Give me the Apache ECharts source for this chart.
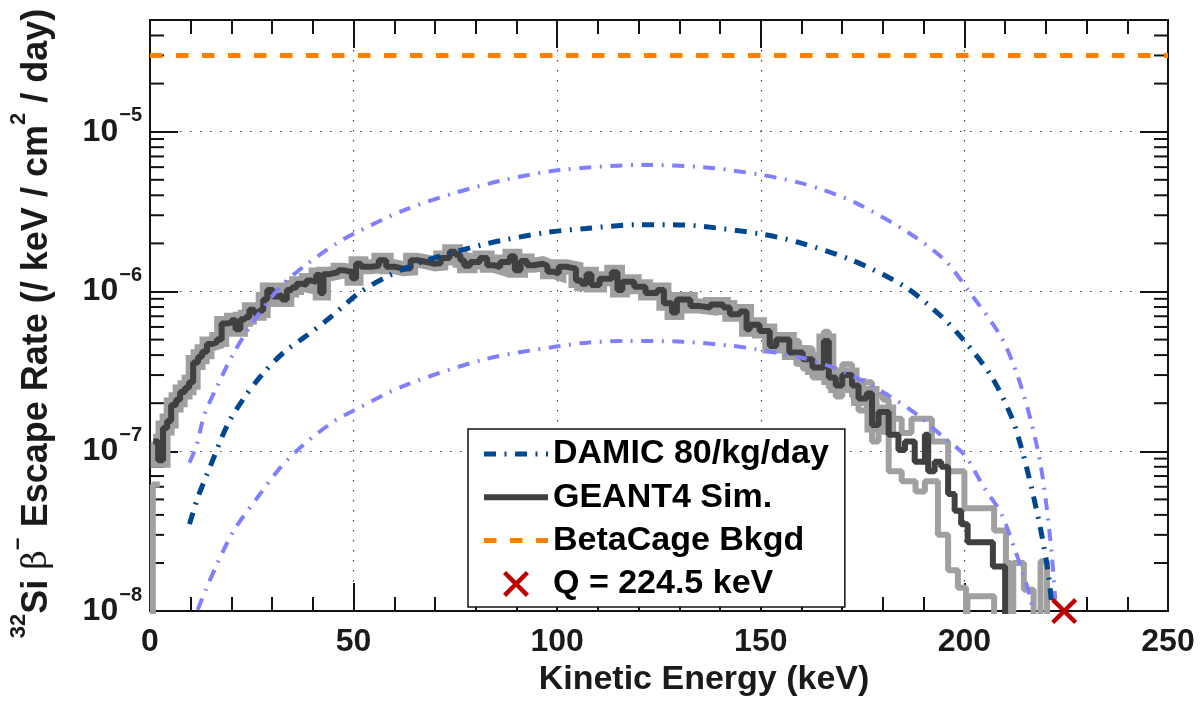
<!DOCTYPE html>
<html>
<head>
<meta charset="utf-8">
<script src="https://cdn.jsdelivr.net/npm/echarts@6/dist/echarts.min.js"></script>
<style>
  html, body { margin: 0; padding: 0; background: #fff; }
  #chart { width: 1201px; height: 702px; }
</style>
</head>
<body>
<div id="chart"></div>
<script>
// ---- data: kinetic energy (keV) vs 32Si beta escape rate (/keV/cm^2/day) ----

// GEANT4 simulated spectrum, step histogram: [bin left edge, rate]
const geantRate = [
  [0.8, 1.15e-7], [2.0, 8.8e-8], [3.2, 1.4e-7], [4.2, 1.55e-7], [5.2, 1.95e-7], [6.4, 2.1e-7],
  [7.4, 2.35e-7], [8.6, 2.5e-7], [9.6, 2.7e-7], [10.6, 3.6e-7], [11.8, 3.9e-7], [12.8, 4.2e-7],
  [14.0, 4.7e-7], [15.2, 4.8e-7], [16.4, 5.0e-7], [17.6, 6.3e-7], [18.8, 6.4e-7], [20.0, 6.6e-7],
  [21.0, 5.8e-7], [22.2, 6.7e-7], [23.4, 6.9e-7], [24.4, 7.7e-7], [25.6, 7.3e-7], [26.8, 7.6e-7],
  [27.8, 8.9e-7], [28.8, 1.02e-6], [30.2, 9.3e-7], [31.4, 9.5e-7], [32.4, 8.9e-7], [33.6, 1.02e-6],
  [34.8, 1.06e-6], [36.0, 1.12e-6], [37.2, 1.1e-6], [38.4, 1.17e-6], [39.6, 1.15e-6], [40.8, 1.27e-6],
  [41.8, 9.8e-7], [42.6, 1.28e-6], [43.8, 1.3e-6], [45.0, 1.32e-6], [46.2, 1.36e-6], [47.4, 1.34e-6],
  [48.6, 1.33e-6], [49.6, 1.21e-6], [50.6, 1.49e-6], [51.8, 1.43e-6], [54.4, 1.45e-6], [56.2, 1.57e-6],
  [58.0, 1.43e-6], [60.0, 1.39e-6], [62.2, 1.4e-6], [64.0, 1.57e-6], [65.6, 1.53e-6], [68.0, 1.49e-6],
  [70.0, 1.5e-6], [71.4, 1.62e-6], [73.6, 1.77e-6], [75.0, 1.7e-6], [76.2, 1.57e-6], [77.2, 1.45e-6],
  [78.6, 1.53e-6], [81.0, 1.62e-6], [82.8, 1.46e-6], [84.4, 1.42e-6], [86.0, 1.53e-6], [88.4, 1.66e-6],
  [89.6, 1.36e-6], [91.0, 1.55e-6], [92.6, 1.46e-6], [94.2, 1.49e-6], [96.4, 1.45e-6], [97.6, 1.33e-6],
  [99.2, 1.3e-6], [100.4, 1.43e-6], [102.2, 1.39e-6], [104.6, 1.17e-6], [106.0, 1.12e-6], [107.2, 1.28e-6],
  [108.4, 1.1e-6], [110.4, 1.2e-6], [113.4, 1.32e-6], [114.8, 1.02e-6], [116.0, 1.15e-6], [118.9, 1.07e-6],
  [121.7, 9.8e-7], [124.6, 1.02e-6], [126.2, 8.45e-7], [128.2, 7.4e-7], [129.4, 8.9e-7], [132.7, 8.1e-7],
  [135.1, 7.95e-7], [137.6, 8.3e-7], [140.8, 7.95e-7], [142.4, 7.2e-7], [144.9, 7.5e-7], [146.5, 5.8e-7],
  [147.3, 6.2e-7], [149.7, 5.65e-7], [152.2, 4.56e-7], [153.8, 5.0e-7], [157.0, 4.15e-7], [160.3, 3.77e-7],
  [162.7, 3.35e-7], [165.5, 4.9e-7], [166.7, 2.9e-7], [168.4, 2.58e-7], [170.0, 3.0e-7], [172.4, 2.58e-7],
  [174.0, 2.14e-7], [176.0, 2.3e-7], [177.3, 1.46e-7], [178.9, 1.76e-7], [181.4, 1.27e-7], [183.8, 1.02e-7],
  [185.4, 1.15e-7], [187.8, 8.6e-8], [190.3, 1.27e-7], [191.1, 7.5e-8], [192.7, 8.6e-8], [194.3, 8.0e-8],
  [196.0, 5.4e-8], [197.6, 4.25e-8], [199.2, 3.5e-8], [200.8, 2.7e-8], [207.0, 1.9e-8], [210.0, 5e-9]
];

// GEANT4 uncertainty bounds where they separate from the central histogram
const geantUpper = [
  [158.0, 4.9e-7], [159.4, 4.4e-7], [162.7, 3.9e-7], [165.5, 5.6e-7], [166.7, 3.3e-7], [168.4, 3.0e-7],
  [170.0, 3.5e-7], [172.4, 2.7e-7], [177.3, 2.25e-7], [180.0, 2.1e-7], [181.4, 1.6e-7], [184.6, 1.3e-7],
  [187.0, 1.6e-7], [192.0, 1.15e-7], [196.0, 7.5e-8], [200.0, 4.4e-8], [207.3, 3.2e-8], [210.2, 2.0e-8],
  [211.4, 5e-9], [212.0, 2.0e-8], [214.6, 1.36e-8], [217.0, 5e-9], [218.7, 2.05e-8], [220.3, 5e-9]
];
const geantLower = [
  [0.0, 5e-9], [0.7, 6.2e-8], [2.4, 6.2e-8], [2.4, '-'],
  [158.0, 3.6e-7], [160.3, 3.3e-7], [162.7, 2.9e-7], [165.5, 4.3e-7], [166.7, 2.5e-7], [168.4, 2.2e-7],
  [170.0, 2.55e-7], [172.4, 2.2e-7], [174.0, 1.8e-7], [176.0, 1.9e-7], [177.3, 1.15e-7], [178.9, 1.4e-7],
  [181.4, 7.5e-8], [184.6, 6.5e-8], [188.0, 5.6e-8], [190.3, 6.5e-8], [193.5, 3.0e-8], [196.0, 1.8e-8],
  [198.4, 1.4e-8], [200.4, 5e-9], [200.8, 1.24e-8], [207.3, 5e-9]
];

// DAMIC-derived spectrum (80/kg/day) and its band
const damicRate = [
  [9.7, 3.5e-8], [11.7, 5.1e-8], [15.0, 8.3e-8], [19.0, 1.46e-7], [23.0, 2.14e-7], [27.9, 3.1e-7],
  [32.8, 4.15e-7], [38.5, 5.3e-7], [44.0, 6.8e-7], [51.4, 9.8e-7], [58.5, 1.25e-6], [68.0, 1.57e-6],
  [82.7, 1.99e-6], [97.3, 2.34e-6], [107.0, 2.48e-6], [120.0, 2.62e-6], [128.0, 2.62e-6], [136.0, 2.55e-6],
  [150.0, 2.29e-6], [159.0, 2.04e-6], [172.4, 1.57e-6], [185.4, 1.07e-6], [194.3, 7.0e-7], [200.0, 4.9e-7],
  [206.5, 2.98e-7], [211.4, 1.68e-7], [214.0, 1.05e-7], [216.7, 5.6e-8], [219.1, 2.9e-8], [220.7, 1.65e-8],
  [221.5, 1.05e-8]
];
const damicUpper = [
  [9.7, 8.5e-8], [11.5, 1.1e-7], [13.3, 1.68e-7], [16.6, 2.58e-7], [20.6, 4.15e-7], [26.3, 7.0e-7],
  [32.0, 1.07e-6], [37.7, 1.43e-6], [45.8, 2.0e-6], [49.9, 2.29e-6], [62.0, 3.2e-6], [75.0, 4.15e-6],
  [87.2, 5.0e-6], [100.2, 5.73e-6], [121.3, 6.2e-6], [135.9, 6.0e-6], [149.6, 5.4e-6], [159.4, 4.8e-6],
  [165.0, 4.35e-6], [173.2, 3.6e-6], [186.2, 2.34e-6], [195.2, 1.57e-6], [200.9, 1.02e-6], [209.0, 5.2e-7],
  [213.0, 3.0e-7], [216.2, 1.6e-7], [218.7, 8.3e-8], [220.3, 4.25e-8], [221.5, 2.2e-8], [222.3, 1.18e-8]
];
const damicLower = [
  [11.7, 1.02e-8], [13.7, 1.36e-8], [16.6, 2.0e-8], [20.6, 3.2e-8], [26.3, 5.1e-8], [32.0, 7.9e-8],
  [37.7, 1.1e-7], [45.0, 1.53e-7], [50.0, 1.8e-7], [62.5, 2.58e-7], [82.3, 3.77e-7], [100.6, 4.56e-7],
  [107.9, 4.8e-7], [117.2, 4.9e-7], [131.0, 4.85e-7], [143.2, 4.56e-7], [148.9, 4.35e-7], [160.0, 3.85e-7],
  [167.0, 3.4e-7], [174.0, 2.84e-7], [181.3, 2.24e-7], [188.6, 1.68e-7], [195.1, 1.21e-7], [200.0, 9.5e-8],
  [204.9, 5.9e-8], [209.0, 4.1e-8], [212.2, 2.5e-8], [214.5, 1.7e-8], [216.3, 1.18e-8], [216.7, 1.02e-8]
];

// BetaCage background level and the 32Si Q-value
const betaCageBkgd = [[0, 3e-5], [250, 3e-5]];
const qValue = [[224.5, 1e-8]];

// axis ranges and minor tick positions of the log axis
const energyRange = [0, 250];
const rateRange = [1e-8, 5e-5];
const rateMinorTicks = [
  2e-8, 3e-8, 4e-8, 5e-8, 6e-8, 7e-8, 8e-8, 9e-8,
  2e-7, 3e-7, 4e-7, 5e-7, 6e-7, 7e-7, 8e-7, 9e-7,
  2e-6, 3e-6, 4e-6, 5e-6, 6e-6, 7e-6, 8e-6, 9e-6,
  2e-5, 3e-5, 4e-5
];

// ---- styling ----
const FONT = "'Liberation Sans', Arial, Helvetica, sans-serif";
const C_DAMIC = '#00478f';
const C_BAND = '#8080ff';
const C_GEANT = '#404040';
const C_GRAY = '#a0a0a0';
const C_BKGD = '#ff8000';
const C_Q = '#c00000';
const DASH_DOT = [12, 8.5, 2, 8.5];
const DASH = [12.5, 13.5];
const CROSS = 'path://M1.2,0 L5,3.8 L8.8,0 L10,1.2 L6.2,5 L10,8.8 L8.8,10 L5,6.2 L1.2,10 L0,8.8 L3.8,5 L0,1.2 Z';
const NO_MARK = { color: 'rgba(0,0,0,0)', borderColor: 'rgba(0,0,0,0)', borderWidth: 0 };

const gridLine = { show: true, lineStyle: { color: '#444', width: 1.2, type: [1.5, 8.5] } };
const frame = { show: true, onZero: false, lineStyle: { color: '#111', width: 2 } };
const majorTick = { show: true, inside: true, length: 28, lineStyle: { color: '#111', width: 2 } };

function powerLabel(v) {
  const e = Math.round(Math.log10(v));
  if (Math.abs(v / Math.pow(10, e) - 1) > 1e-6) return '';
  return '{m|10}{s|\u2212' + Math.abs(e) + '}';
}

const chart = echarts.init(document.getElementById('chart'));

chart.setOption({
  animation: false,
  backgroundColor: '#fff',
  grid: { left: 142, top: 20, width: 1026, height: 598, containLabel: false },
  xAxis: [
    {
      type: 'value', position: 'bottom', min: energyRange[0], max: energyRange[1], interval: 50,
      axisLine: frame, axisTick: majorTick,
      minorTick: { show: true, splitNumber: 5, length: 14, lineStyle: { color: '#111', width: 2 } },
      splitLine: gridLine,
      axisLabel: { margin: 15, fontFamily: FONT, fontWeight: 'bold', fontSize: 32, color: '#1a1a1a' },
      name: 'Kinetic Energy (keV)', nameLocation: 'middle', nameGap: 46,
      nameTextStyle: { fontFamily: FONT, fontWeight: 'bold', fontSize: 34, color: '#1a1a1a', padding: [0, 0, 0, 90] }
    },
    {
      type: 'value', position: 'top', min: energyRange[0], max: energyRange[1], interval: 50,
      axisLine: frame, axisTick: majorTick,
      minorTick: { show: true, splitNumber: 5, length: 14, lineStyle: { color: '#111', width: 2 } },
      splitLine: { show: false }, axisLabel: { show: false }
    }
  ],
  yAxis: [
    {
      type: 'log', position: 'left', min: rateRange[0], max: rateRange[1], logBase: 10,
      axisLine: frame, axisTick: majorTick, splitLine: gridLine,
      axisLabel: {
        margin: 8, formatter: powerLabel,
        rich: {
          m: { fontFamily: FONT, fontWeight: 'bold', fontSize: 32, color: '#1a1a1a', verticalAlign: 'middle' },
          s: { fontFamily: FONT, fontWeight: 'bold', fontSize: 20, color: '#1a1a1a', verticalAlign: 'middle', padding: [0, 0, 32, 1] }
        }
      },
      name: '{sup|32}{b|Si }{g|\u03b2}{sup|\u2212}{b| Escape Rate (/ keV / cm}{sup|2}{b| / day)}',
      nameLocation: 'middle', nameRotate: 90, nameGap: 84,
      nameTextStyle: {
        color: '#1a1a1a',
        padding: [0, 16, 0, 0],
        rich: {
          b: { fontFamily: FONT, fontWeight: 'bold', fontSize: 36, color: '#1a1a1a', verticalAlign: 'middle' },
          g: { fontFamily: "'DejaVu Serif', 'Liberation Serif', serif", fontWeight: 'normal', fontSize: 34, color: '#1a1a1a', verticalAlign: 'middle' },
          sup: { fontFamily: FONT, fontWeight: 'bold', fontSize: 22, color: '#1a1a1a', verticalAlign: 'middle', padding: [0, 0, 36, 0] }
        }
      }
    },
    {
      type: 'log', position: 'right', min: rateRange[0], max: rateRange[1], logBase: 10,
      axisLine: frame, axisTick: majorTick, splitLine: { show: false }, axisLabel: { show: false }
    }
  ],
  legend: {
    orient: 'vertical', left: 468, top: 429,
    itemWidth: 64, itemHeight: 26, itemGap: 5.3,
    padding: [6, 16, 4, 13],
    backgroundColor: '#fff', borderColor: '#111', borderWidth: 1.5, borderRadius: 0,
    selectedMode: false,
    textStyle: { fontFamily: FONT, fontWeight: 'bold', fontSize: 34, color: '#000', lineHeight: 38 },
    data: [
      { name: 'DAMIC 80/kg/day', itemStyle: NO_MARK, lineStyle: { color: C_DAMIC, width: 5, type: DASH_DOT, cap: 'butt' } },
      { name: 'GEANT4 Sim.', itemStyle: NO_MARK, lineStyle: { color: C_GEANT, width: 6, type: 'solid' } },
      { name: 'BetaCage Bkgd', itemStyle: NO_MARK, lineStyle: { color: C_BKGD, width: 5, type: DASH, cap: 'butt' } },
      { name: 'Q = 224.5 keV' }
    ]
  },
  series: [
    {
      // minor ticks on both log-scale edges
      name: 'rate minor ticks', type: 'custom', xAxisIndex: 0, yAxisIndex: 0, silent: true, clip: false, z: 1,
      data: rateMinorTicks.map(v => [energyRange[0], v]),
      renderItem: function (params, api) {
        const v = api.value(1);
        const a = api.coord([energyRange[0], v]);
        const b = api.coord([energyRange[1], v]);
        const st = { stroke: '#111', lineWidth: 2 };
        return {
          type: 'group',
          children: [
            { type: 'line', shape: { x1: a[0], y1: a[1], x2: a[0] + 14, y2: a[1] }, style: st },
            { type: 'line', shape: { x1: b[0] - 14, y1: b[1], x2: b[0], y2: b[1] }, style: st }
          ]
        };
      }
    },
    {
      name: 'GEANT4 band', type: 'line', step: 'end', symbol: 'none', z: 3,
      data: geantRate.filter(p => p[0] <= 181.5),
      lineStyle: { color: C_GRAY, width: 15, join: 'miter' }
    },
    {
      name: 'GEANT4 upper', type: 'line', step: 'end', symbol: 'none', z: 3,
      data: geantUpper, lineStyle: { color: C_GRAY, width: 6 }
    },
    {
      name: 'GEANT4 lower', type: 'line', step: 'end', symbol: 'none', z: 3,
      data: geantLower, lineStyle: { color: C_GRAY, width: 6 }
    },
    {
      name: 'GEANT4 Sim.', type: 'line', step: 'end', symbol: 'none', z: 4,
      data: geantRate, lineStyle: { color: C_GEANT, width: 6 }, itemStyle: { color: C_GEANT }
    },
    {
      name: 'DAMIC upper', type: 'line', smooth: 0.3, symbol: 'none', z: 5,
      data: damicUpper, lineStyle: { color: C_BAND, width: 4, type: DASH_DOT, cap: 'butt' }
    },
    {
      name: 'DAMIC lower', type: 'line', smooth: 0.3, symbol: 'none', z: 5,
      data: damicLower, lineStyle: { color: C_BAND, width: 4, type: DASH_DOT, cap: 'butt' }
    },
    {
      name: 'DAMIC 80/kg/day', type: 'line', smooth: 0.3, symbol: 'none', z: 6,
      data: damicRate, lineStyle: { color: C_DAMIC, width: 5, type: DASH_DOT, cap: 'butt' },
      itemStyle: { color: C_DAMIC }
    },
    {
      name: 'BetaCage Bkgd', type: 'line', symbol: 'none', z: 6,
      data: betaCageBkgd, lineStyle: { color: C_BKGD, width: 5, type: DASH, cap: 'butt' },
      itemStyle: { color: C_BKGD }
    },
    {
      name: 'Q = 224.5 keV', type: 'scatter', symbol: CROSS, symbolSize: 26, clip: false, z: 7,
      data: qValue, itemStyle: { color: C_Q, opacity: 1 }
    }
  ]
});
</script>
</body>
</html>
